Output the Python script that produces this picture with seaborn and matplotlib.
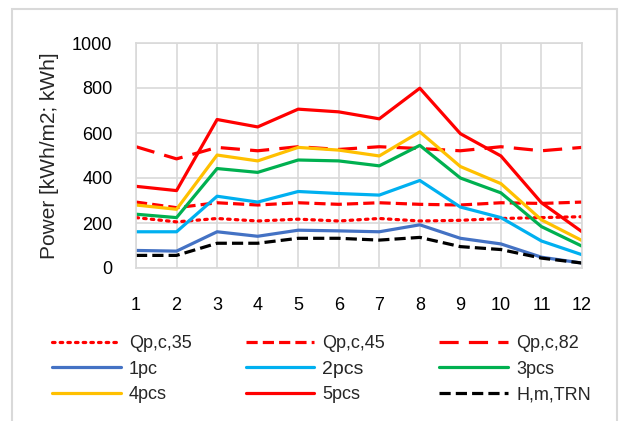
import matplotlib
matplotlib.use('Agg')
import matplotlib.pyplot as plt
import seaborn as sns
import pandas as pd
from matplotlib.patches import Rectangle

'''
数据
'''
months = list(range(1, 13))
qp_35 = [224, 205, 220, 209, 217, 209, 220, 209, 212, 220, 224, 228]
qp_45 = [293, 268, 290, 280, 290, 283, 290, 283, 280, 290, 287, 293]
qp_82 = [539, 485, 536, 521, 539, 527, 539, 531, 521, 539, 521, 536]
pc_1 = [78, 75, 161, 141, 168, 165, 161, 192, 132, 107, 48, 22]
pcs_2 = [161, 161, 319, 293, 340, 331, 324, 389, 271, 224, 120, 59]
pcs_3 = [239, 224, 442, 425, 480, 476, 454, 545, 400, 334, 184, 97]
pcs_4 = [280, 261, 502, 476, 536, 524, 498, 605, 451, 375, 214, 122]
pcs_5 = [363, 344, 660, 627, 706, 694, 663, 799, 597, 498, 290, 161]
h_trn = [56, 56, 110, 110, 132, 132, 124, 136, 95, 82, 44, 22]

sns.set_style('white')
plt.rcParams['font.family'] = ['Liberation Sans', 'DejaVu Sans']

fig = plt.figure(figsize=(6.19, 4.21), dpi=100)
ax = fig.add_axes([136 / 619, 1 - 268 / 421, 446 / 619, 225 / 421])

# 系列: (名称, 数据, 颜色, 线型)
series = [
    ('Qp,c,35', qp_35, '#FF0000', (0, (0.8, 1.6))),
    ('Qp,c,45', qp_45, '#FF0000', (0, (3.5, 1.6))),
    ('Qp,c,82', qp_82, '#FF0000', (0, (6, 3.2))),
    ('1pc', pc_1, '#4472C4', '-'),
    ('2pcs', pcs_2, '#00B0F0', '-'),
    ('3pcs', pcs_3, '#00B050', '-'),
    ('4pcs', pcs_4, '#FFC000', '-'),
    ('5pcs', pcs_5, '#FF0000', '-'),
    ('H,m,TRN', h_trn, '#000000', (0, (3.5, 1.6))),
]

handles = {}
for name, vals, color, ls in series:
    df = pd.DataFrame({'month': months, 'value': vals})
    sns.lineplot(data=df, x='month', y='value', ax=ax, color=color,
                 linewidth=2.3, linestyle=ls, label=name, legend=False)
    line = ax.get_lines()[-1]
    if name == 'Qp,c,35':
        line.set_dash_capstyle('round')
    handles[name] = line

ax.set_xlim(1, 12)
ax.set_ylim(0, 1000)
ax.set_xticks(months)
ax.set_yticks(range(0, 1001, 200))
ax.grid(True, color='#D9D9D9', linewidth=1.2)
ax.set_axisbelow(True)
for s in ax.spines.values():
    s.set_color('#D9D9D9')
    s.set_linewidth(1.2)
ax.tick_params(axis='both', length=0, labelsize=13, colors='#000000')
ax.tick_params(axis='x', pad=21)
ax.tick_params(axis='y', pad=17)
ax.set_xlabel('')
ax.set_ylabel('Power [kWh/m2; kWh]', fontsize=15)
ax.yaxis.set_label_coords(-0.172, 0.5)

# 图例顺序 (按列填充)
order = ['Qp,c,35', '1pc', '4pcs', 'Qp,c,45', '2pcs', '5pcs', 'Qp,c,82', '3pcs', 'H,m,TRN']
leg = fig.legend([handles[n] for n in order], order, ncol=3, frameon=False,
                 loc='upper left', bbox_to_anchor=(52 / 619, 1 - 335 / 421),
                 fontsize=13, handlelength=3.8, handletextpad=0.45,
                 columnspacing=3.0, labelspacing=0.48, borderpad=0, borderaxespad=0)
for t in leg.get_texts():
    if t.get_text() == '2pcs':
        t.set_fontsize(14)

# 图表外框
fig.patches.append(Rectangle((12 / 619, -0.05), 605 / 619, 1.05 - 9 / 421,
                             transform=fig.transFigure, fill=False,
                             edgecolor='#D9D9D9', linewidth=1.5))

fig.savefig('out.png', dpi=100)
